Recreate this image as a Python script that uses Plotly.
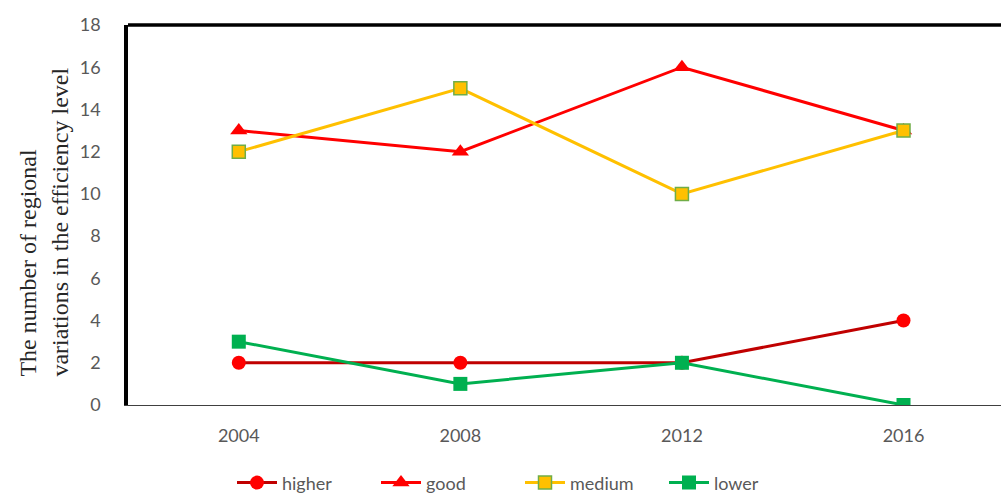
import plotly.graph_objects as go

years = ["2004", "2008", "2012", "2016"]
higher = [2, 2, 2, 4]
good = [13, 12, 16, 13]
medium = [12, 15, 10, 13]
lower = [3, 1, 2, 0]
y_ticks = [0, 2, 4, 6, 8, 10, 12, 14, 16, 18]

fig = go.Figure()
fig.add_trace(go.Scatter(x=years, y=higher, name="higher", mode="lines+markers",
                         line=dict(color="#C00000", width=3),
                         marker=dict(symbol="circle", size=14, color="#FF0000", line=dict(width=0))))
fig.add_trace(go.Scatter(x=years, y=good, name="good", mode="lines+markers",
                         line=dict(color="#FF0000", width=3),
                         marker=dict(symbol="triangle-up", size=15, color="#FF0000", line=dict(width=0))))
fig.add_trace(go.Scatter(x=years, y=medium, name="medium", mode="lines+markers",
                         line=dict(color="#FFC000", width=3),
                         marker=dict(symbol="square", size=13, color="#FFC000", line=dict(color="#70AD47", width=1.5))))
fig.add_trace(go.Scatter(x=years, y=lower, name="lower", mode="lines+markers",
                         line=dict(color="#00B050", width=3),
                         marker=dict(symbol="square", size=14, color="#00B050", line=dict(width=0))))

fig.update_layout(
    width=1001, height=496,
    margin=dict(l=128, r=0, t=25, b=91, autoexpand=False),
    plot_bgcolor="white", paper_bgcolor="white",
    font=dict(family="Lato", size=18, color="#595959"),
    showlegend=True,
    legend=dict(orientation="h", x=(232 - 128) / 873, xanchor="left", y=-0.205, yanchor="middle",
                font=dict(family="Lato", size=18, color="#595959"), traceorder="normal",
                entrywidth=89, entrywidthmode="pixels", itemwidth=40),
    xaxis=dict(range=[-0.5, 3.44], showgrid=False, showline=True, linecolor="#404040", linewidth=1,
               ticks="", ticklabelstandoff=14,
               tickfont=dict(family="Lato", size=18, color="#595959"), fixedrange=True),
    yaxis=dict(range=[0, 18], tickvals=y_ticks, showgrid=False, showline=True, linecolor="black",
               linewidth=3.5, ticks="", zeroline=False, ticklabelstandoff=20,
               tickfont=dict(family="Lato", size=18, color="#595959")),
    shapes=[dict(type="line", xref="paper", yref="paper", x0=0, x1=1, y0=1, y1=1,
                 line=dict(color="black", width=3.5))],
    annotations=[dict(text="The number of regional<br>variations in the efficiency level",
                      xref="paper", yref="paper", x=(44 - 128) / 873, y=0.48, align="left",
                      xanchor="center", yanchor="middle", textangle=-90, showarrow=False,
                      font=dict(family="Liberation Serif", size=24, color="#262626"))],
)

fig.write_html("out.html")
